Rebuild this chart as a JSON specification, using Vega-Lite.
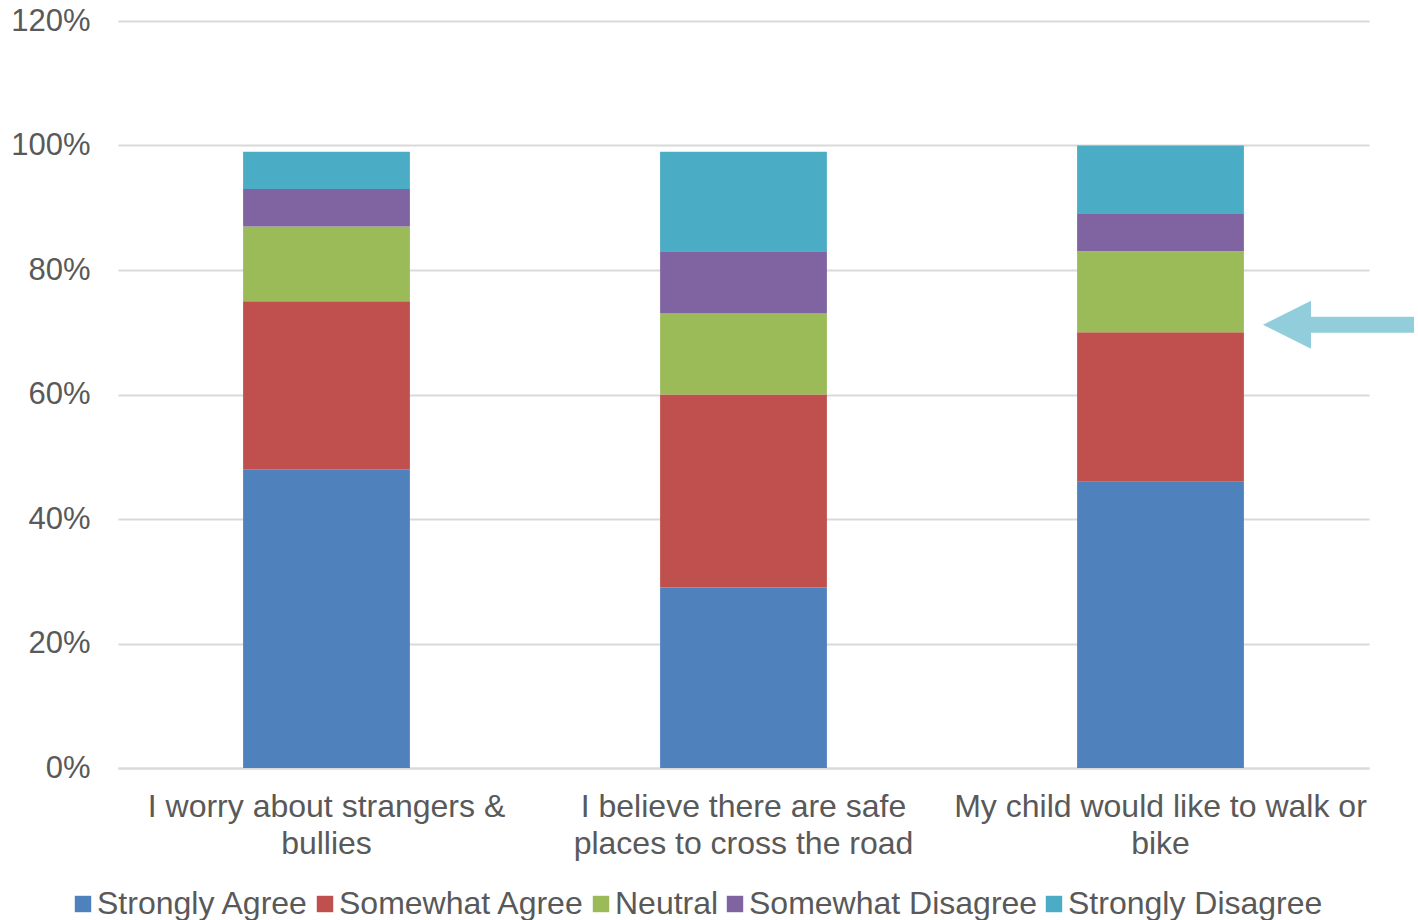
{
  "$schema": "https://vega.github.io/schema/vega-lite/v6.json",
  "width": 1251,
  "height": 747,
  "autosize": {"type": "none"},
  "padding": {"left": 118, "top": 21, "right": 49, "bottom": 152},
  "background": "white",
  "config": {
    "font": "Liberation Sans",
    "view": {"stroke": null},
    "axis": {
      "labelFont": "Liberation Sans",
      "labelColor": "#595959",
      "labelFontSize": 31,
      "ticks": false,
      "title": null
    }
  },
  "datasets": {
    "responses": [
      {"statement": "I worry about strangers & bullies", "response": "Strongly Agree", "rank": 1, "share": 0.48},
      {"statement": "I worry about strangers & bullies", "response": "Somewhat Agree", "rank": 2, "share": 0.27},
      {"statement": "I worry about strangers & bullies", "response": "Neutral", "rank": 3, "share": 0.12},
      {"statement": "I worry about strangers & bullies", "response": "Somewhat Disagree", "rank": 4, "share": 0.06},
      {"statement": "I worry about strangers & bullies", "response": "Strongly Disagree", "rank": 5, "share": 0.06},
      {"statement": "I believe there are safe places to cross the road", "response": "Strongly Agree", "rank": 1, "share": 0.29},
      {"statement": "I believe there are safe places to cross the road", "response": "Somewhat Agree", "rank": 2, "share": 0.31},
      {"statement": "I believe there are safe places to cross the road", "response": "Neutral", "rank": 3, "share": 0.13},
      {"statement": "I believe there are safe places to cross the road", "response": "Somewhat Disagree", "rank": 4, "share": 0.10},
      {"statement": "I believe there are safe places to cross the road", "response": "Strongly Disagree", "rank": 5, "share": 0.16},
      {"statement": "My child would like to walk or bike", "response": "Strongly Agree", "rank": 1, "share": 0.46},
      {"statement": "My child would like to walk or bike", "response": "Somewhat Agree", "rank": 2, "share": 0.24},
      {"statement": "My child would like to walk or bike", "response": "Neutral", "rank": 3, "share": 0.13},
      {"statement": "My child would like to walk or bike", "response": "Somewhat Disagree", "rank": 4, "share": 0.06},
      {"statement": "My child would like to walk or bike", "response": "Strongly Disagree", "rank": 5, "share": 0.11}
    ],
    "callout": [
      {"pos": 0.9756, "share": 0.712}
    ]
  },
  "layer": [
    {
      "data": {"name": "responses"},
      "mark": {"type": "bar"},
      "encoding": {
        "x": {
          "field": "statement",
          "type": "nominal",
          "sort": null,
          "scale": {"paddingInner": 0.6, "paddingOuter": 0.3},
          "axis": {
            "labelAngle": 0,
            "labelFontSize": 32,
            "labelLineHeight": 37,
            "labelPadding": 23,
            "labelLimit": 600,
            "domain": true,
            "domainColor": "#D9D9D9",
            "domainWidth": 2,
            "grid": false,
            "labelExpr": "datum.value == 'I worry about strangers & bullies' ? ['I worry about strangers &', 'bullies'] : datum.value == 'I believe there are safe places to cross the road' ? ['I believe there are safe', 'places to cross the road'] : ['My child would like to walk or', 'bike']"
          }
        },
        "y": {
          "field": "share",
          "type": "quantitative",
          "stack": "zero",
          "scale": {"domain": [0, 1.2], "nice": false},
          "axis": {
            "values": [0, 0.2, 0.4, 0.6, 0.8, 1.0, 1.2],
            "format": ".0%",
            "domain": false,
            "grid": true,
            "gridColor": "#D9D9D9",
            "gridWidth": 2,
            "labelPadding": 28,
            "title": null
          }
        },
        "color": {
          "field": "response",
          "type": "nominal",
          "scale": {
            "domain": ["Strongly Agree", "Somewhat Agree", "Neutral", "Somewhat Disagree", "Strongly Disagree"],
            "range": ["#4F81BD", "#C0504D", "#9BBB59", "#8064A2", "#4BACC6"]
          },
          "legend": {
            "title": null,
            "orient": "none",
            "direction": "horizontal",
            "legendX": -51,
            "legendY": 867,
            "padding": 0,
            "symbolType": "square",
            "symbolSize": 270,
            "symbolStrokeWidth": 0,
            "labelFont": "Liberation Sans",
            "labelFontSize": 32,
            "labelColor": "#595959",
            "labelOffset": -2,
            "labelLimit": 600,
            "columnPadding": 0
          }
        },
        "order": {"field": "rank", "type": "quantitative"}
      }
    },
    {
      "data": {"name": "callout"},
      "mark": {
        "type": "point",
        "filled": true,
        "opacity": 1,
        "color": "#92CDDC",
        "strokeWidth": 0,
        "size": 22801,
        "shape": "M -1 0 L -0.364 -0.318 L -0.364 -0.106 L 1 -0.106 L 1 0.106 L -0.364 0.106 L -0.364 0.318 Z"
      },
      "encoding": {
        "x": {"field": "pos", "type": "quantitative", "scale": {"domain": [0, 1]}, "axis": null},
        "y": {"field": "share", "type": "quantitative"}
      }
    }
  ],
  "resolve": {"scale": {"x": "independent"}}
}
